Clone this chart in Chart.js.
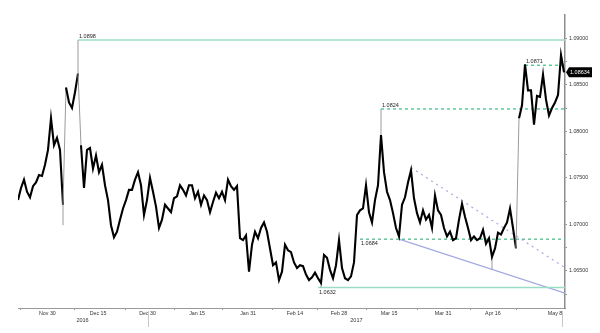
<!DOCTYPE html>
<html>
<head>
<meta charset="utf-8">
<script src="https://cdn.jsdelivr.net/npm/chart.js@4"></script>
<style>
  html, body { margin: 0; padding: 0; background: #fff; }
  canvas { display: block; }
</style>
</head>
<body>
<canvas id="fxChart" width="600" height="333"></canvas>
<script>
// closing prices, one per session slot
const closes = [
  1.0726, 1.0739, 1.0748, 1.0735, 1.0729, 1.0741, 1.0745, 1.0753, 1.0752, 1.0764,
  1.0780, 1.0814, 1.0785, 1.0793, 1.0780, 1.0721, 1.0847, 1.0831, 1.0825, 1.0842,
  1.0862, 1.0785, 1.0739, 1.0780, 1.0782, 1.0760, 1.0774, 1.0756, 1.0764, 1.0742,
  1.0726, 1.0699, 1.0686, 1.0692, 1.0705, 1.0717, 1.0726, 1.0737, 1.0737, 1.0748,
  1.0756, 1.0742, 1.0710, 1.0726, 1.0750, 1.0735, 1.0719, 1.0696, 1.0705, 1.0721,
  1.0717, 1.0713, 1.0728, 1.0730, 1.0742, 1.0737, 1.0731, 1.0742, 1.0742, 1.0728,
  1.0735, 1.0721, 1.0731, 1.0726, 1.0713, 1.0724, 1.0734, 1.0728, 1.0735, 1.0726,
  1.0748, 1.0741, 1.0737, 1.0741, 1.0685, 1.0683, 1.0688, 1.0649, 1.0678, 1.0692,
  1.0685, 1.0696, 1.0702, 1.0692, 1.0674, 1.0656, 1.0659, 1.0640, 1.0649, 1.0678,
  1.0672, 1.0670, 1.0659, 1.0653, 1.0656, 1.0655, 1.0646, 1.0640, 1.0643, 1.0648,
  1.0642, 1.0637, 1.0667, 1.0664, 1.0651, 1.0642, 1.0656, 1.0683, 1.0653, 1.0642,
  1.0640, 1.0644, 1.0659, 1.0710, 1.0715, 1.0717, 1.0742, 1.0713, 1.0702, 1.0726,
  1.0742, 1.0796, 1.0756, 1.0735, 1.0726, 1.0712, 1.0696, 1.0687, 1.0721, 1.0729,
  1.0745, 1.0758, 1.0728, 1.0712, 1.0702, 1.0715, 1.0705, 1.0710, 1.0696, 1.0731,
  1.0715, 1.0710, 1.0696, 1.0687, 1.0692, 1.0683, 1.0685, 1.0705, 1.0722, 1.0708,
  1.0696, 1.0683, 1.0687, 1.0683, 1.0685, 1.0694, 1.0679, 1.0685, 1.0665, 1.0674,
  1.0691, 1.0689, 1.0696, 1.0702, 1.0717, 1.0696, 1.0674, 1.0814, 1.0828, 1.0872,
  1.0844, 1.0844, 1.0807, 1.0838, 1.0837, 1.0861, 1.0834, 1.0817, 1.0825, 1.0831,
  1.0839, 1.0882, 1.08634
];

// single-bar extremes that stick out of the close line: [slot, low, high]
const wicks = [
  [15, 1.0699, 1.0721],
  [20, 1.0862, 1.0898],
  [101, 1.0632, 1.0637],
  [121, 1.0796, 1.0824],
  [158, 1.0651, 1.0665]
];

// marked levels and the slot where each one starts
const levelValues = [1.0898, 1.0871, 1.0824, 1.0684, 1.0632];
const levelStart = [20, 169, 121, 114, 100];
const levelDashed = [false, true, true, true, false];
const levelLabelBelow = [false, false, false, true, true];

// falling wedge: [startSlot, startPrice, endSlot, endPrice]
const upperTrend = [131, 1.0761, 182, 1.0654];
const lowerTrend = [127, 1.0684, 182.3, 1.0626];

// x axis labels and where they sit (in slots)
const xTickLabels = ['Nov 30', 'Dec 15', 'Dec 30', 'Jan 15', 'Jan 31', 'Feb 14', 'Feb 28', 'Mar 15', 'Mar 31', 'Apr 16', 'May 8'];
const xTickPos = [9.8, 26.7, 43.2, 59.7, 76.7, 92.3, 107, 123.7, 141.7, 158.3, 179];
const xMarkPos = [0.7, 18.7, 35.7, 52, 68.3, 84.7, 99.7, 116.3, 133, 150.7, 166.3];
const yearLabels = ['2016', '2017'];
const yearPos = [21.5, 112.8];
const yearBreaks = [43.3, 181.3];

const yTicks = [1.0625, 1.065, 1.0675, 1.07, 1.0725, 1.075, 1.0775, 1.08, 1.0825, 1.085, 1.0875, 1.09];
const yLabelled = [1.065, 1.07, 1.075, 1.08, 1.085, 1.09];

const X_MAX = 182.33;
const FONT = "'Liberation Sans', Arial, sans-serif";
const JUMP = 0.006; // bigger moves between slots are gaps, drawn thin grey

const datasets = [];

datasets.push({
  label: 'close',
  data: closes.map((v, i) => ({ x: i, y: v })),
  borderColor: '#000',
  borderWidth: 2.1,
  pointRadius: 0,
  order: 0,
  segment: {
    borderColor: c => Math.abs(c.p1.parsed.y - c.p0.parsed.y) > JUMP ? '#9a9a9a' : '#000',
    borderWidth: c => Math.abs(c.p1.parsed.y - c.p0.parsed.y) > JUMP ? 1 : 2.1
  }
});

const wickPts = [];
wicks.forEach(w => {
  wickPts.push({ x: w[0], y: w[1] }, { x: w[0], y: w[2] }, { x: w[0], y: null });
});
datasets.push({
  label: 'wicks',
  data: wickPts,
  borderColor: '#9a9a9a',
  borderWidth: 1,
  pointRadius: 0,
  spanGaps: false,
  order: 1
});

levelValues.forEach((lv, k) => {
  datasets.push({
    label: 'level ' + lv,
    data: [{ x: levelStart[k], y: lv }, { x: X_MAX, y: lv }],
    borderColor: levelDashed[k] ? '#3dbb85' : '#9bdcc4',
    borderWidth: levelDashed[k] ? 1.2 : 1.5,
    borderDash: levelDashed[k] ? [3, 3] : [],
    pointRadius: 0,
    order: 2
  });
});

[upperTrend, lowerTrend].forEach((t, k) => {
  datasets.push({
    label: k ? 'support' : 'resistance',
    data: [{ x: t[0], y: t[1] }, { x: t[2], y: t[3] }],
    borderColor: '#a3aae2',
    borderWidth: 1.2,
    borderDash: k ? [] : [2, 4],
    pointRadius: 0,
    order: 3
  });
});

const annotations = {
  id: 'annotations',
  afterDatasetsDraw(chart) {
    const { ctx, scales: { x, y } } = chart;
    ctx.save();
    ctx.font = '5.5px ' + FONT;
    ctx.fillStyle = '#222';
    ctx.textAlign = 'left';
    levelValues.forEach((lv, k) => {
      const px = x.getPixelForValue(levelStart[k]);
      const py = y.getPixelForValue(lv);
      ctx.textBaseline = levelLabelBelow[k] ? 'top' : 'bottom';
      ctx.fillText(lv.toFixed(4), px + 1, levelLabelBelow[k] ? py + 2 : py - 1);
    });

    // last price tag on the right axis
    const last = closes[closes.length - 1];
    const ty = y.getPixelForValue(last);
    const left = chart.chartArea.right + 1;
    ctx.fillStyle = '#000';
    ctx.beginPath();
    ctx.moveTo(left, ty);
    ctx.lineTo(left + 3, ty - 5);
    ctx.lineTo(left + 26, ty - 5);
    ctx.lineTo(left + 26, ty + 5);
    ctx.lineTo(left + 3, ty + 5);
    ctx.closePath();
    ctx.fill();
    ctx.fillStyle = '#fff';
    ctx.textBaseline = 'middle';
    ctx.fillText(last.toFixed(5), left + 4, ty + 0.5);

    // years and year breaks under the date axis
    const bottom = chart.chartArea.bottom;
    ctx.fillStyle = '#333';
    ctx.textAlign = 'center';
    ctx.textBaseline = 'middle';
    yearLabels.forEach((t, k) => ctx.fillText(t, x.getPixelForValue(yearPos[k]), bottom + 12));
    ctx.strokeStyle = '#c8c8c8';
    ctx.lineWidth = 1;
    yearBreaks.forEach(b => {
      const bx = Math.round(x.getPixelForValue(b)) + 0.5;
      ctx.beginPath();
      ctx.moveTo(bx, bottom + 3);
      ctx.lineTo(bx, bottom + 19);
      ctx.stroke();
    });
    ctx.restore();
  }
};

new Chart(document.getElementById('fxChart'), {
  type: 'line',
  data: { datasets },
  options: {
    responsive: false,
    animation: false,
    events: [],
    layout: { padding: { left: 18, top: 15, right: 0, bottom: 0 } },
    plugins: { legend: { display: false }, tooltip: { enabled: false } },
    scales: {
      x: {
        type: 'linear',
        min: 0,
        max: X_MAX,
        weight: 1,
        afterBuildTicks: axis => { axis.ticks = xTickPos.map(v => ({ value: v })); },
        afterFit: axis => { axis.height = 25; },
        grid: { display: false, drawTicks: false, tickLength: 0 },
        border: { display: true, color: '#9a9a9a', width: 1 },
        ticks: {
          autoSkip: false,
          maxRotation: 0,
          padding: 2,
          color: '#333',
          font: { size: 5.3, family: FONT },
          callback: (v, i) => xTickLabels[i]
        }
      },
      xMarks: {
        type: 'linear',
        position: 'bottom',
        min: 0,
        max: X_MAX,
        weight: 0,
        afterBuildTicks: axis => { axis.ticks = xMarkPos.map(v => ({ value: v })); },
        afterFit: axis => { axis.height = 0; },
        grid: { display: true, drawOnChartArea: false, drawTicks: true, tickLength: 2, color: '#9a9a9a' },
        border: { display: false },
        ticks: { display: false }
      },
      y: {
        position: 'right',
        min: 1.061,
        max: 1.0925,
        afterBuildTicks: axis => { axis.ticks = yTicks.map(v => ({ value: v })); },
        afterFit: axis => { axis.width = 35; },
        grid: { drawOnChartArea: false, drawTicks: true, tickLength: 2, color: '#8c8c8c' },
        border: { display: true, color: '#8c8c8c', width: 1.5 },
        ticks: {
          padding: 2,
          color: '#333',
          font: { size: 5.3, family: FONT },
          callback: v => yLabelled.some(l => Math.abs(l - v) < 1e-7) ? v.toFixed(5) : ''
        }
      }
    }
  },
  plugins: [annotations]
});
</script>
</body>
</html>
